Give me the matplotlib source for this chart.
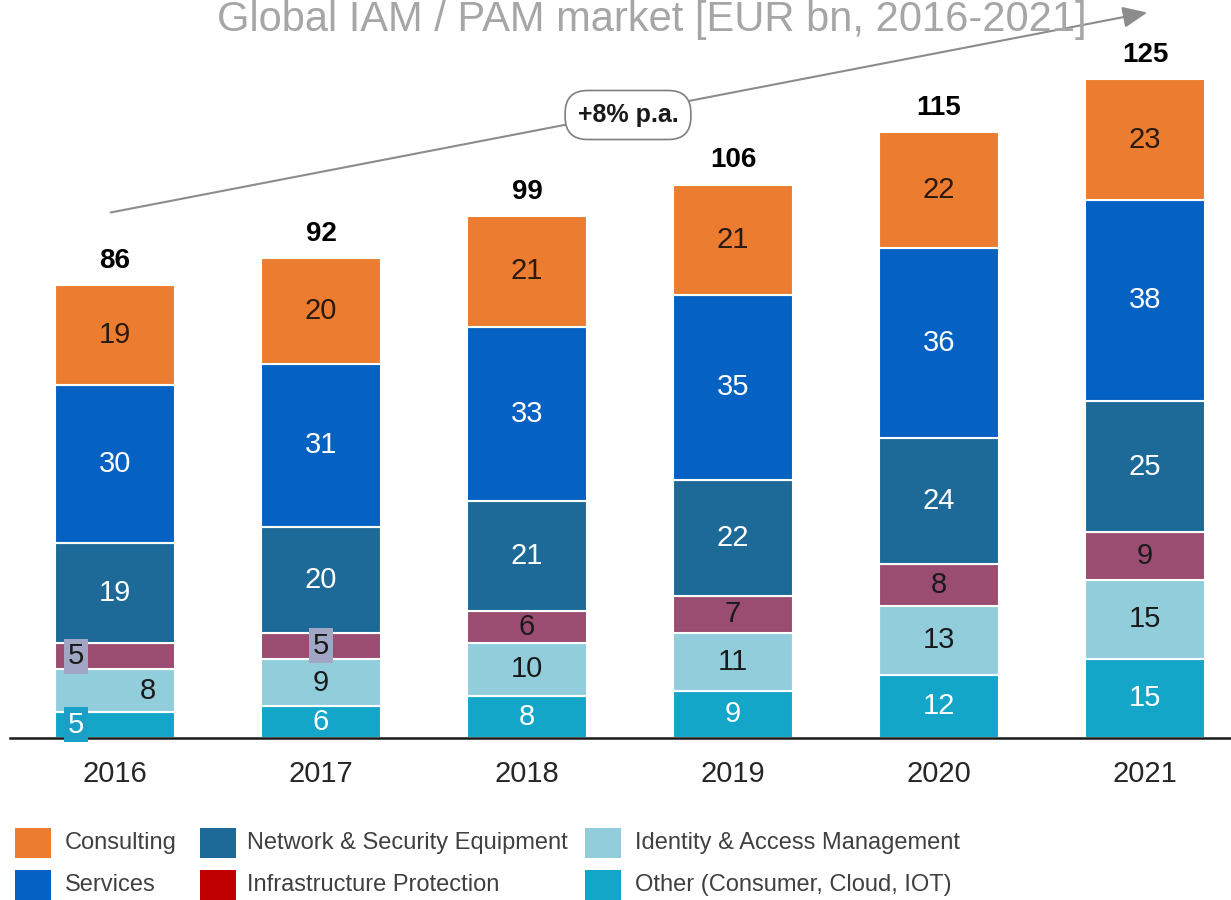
import matplotlib.pyplot as plt
from matplotlib.patches import Rectangle
import numpy as np

plt.rcParams['font.family'] = ['Liberation Sans Narrow', 'Liberation Sans', 'DejaVu Sans']

years = ['2016', '2017', '2018', '2019', '2020', '2021']
totals = [86, 92, 99, 106, 115, 125]
# segments bottom to top
other = [5, 6, 8, 9, 12, 15]
iam = [8, 9, 10, 11, 13, 15]
infra = [5, 5, 6, 7, 8, 9]
network = [19, 20, 21, 22, 24, 25]
services = [30, 31, 33, 35, 36, 38]
consulting = [19, 20, 21, 21, 22, 23]

segments = [other, iam, infra, network, services, consulting]
seg_colors = ['#13a6c8', '#92cddc', '#9a4d70', '#1d6a99', '#0662c2', '#ec7c30']
label_colors = ['white', '#1a1a1a', '#1a1a1a', 'white', 'white', '#2a1a10']

legend_names = ['Consulting', 'Services', 'Network & Security Equipment',
                'Infrastructure Protection', 'Identity & Access Management',
                'Other (Consumer, Cloud, IOT)']
legend_colors = ['#ec7c30', '#0662c2', '#1d6a99', '#c00000', '#92cddc', '#13a6c8']

fig = plt.figure(figsize=(12.31, 9), dpi=100)
ax = fig.add_axes([10 / 1231, 0.18, 1 - 10 / 1231, 0.82])

x = np.arange(len(years))
w = 0.583
bottom = np.zeros(len(years))
for k, (vals, col) in enumerate(zip(segments, seg_colors)):
    vals = np.array(vals, dtype=float)
    ax.bar(x, vals, w, bottom=bottom, color=col, edgecolor='white', linewidth=1.5)
    for i in range(len(years)):
        xo = x[i]
        box = None
        # a few labels sit off-centre with a small box, as in the source slide
        if i == 0 and k == 0:
            xo = x[i] - 0.19
            box = '#1aa0c6'
        elif i == 0 and k == 1:
            xo = x[i] + 0.16
        elif i == 0 and k == 2:
            xo = x[i] - 0.19
            box = '#a0a6c4'
        elif i == 1 and k == 2:
            box = '#a0a6c4'
        t = ax.text(xo, bottom[i] + vals[i] / 2, str(int(vals[i])), ha='center', va='center',
                    fontsize=21, color=label_colors[k])
        if box:
            t.set_bbox(dict(facecolor=box, edgecolor='none', pad=2.5))
    bottom += vals

for i in range(len(years)):
    ax.annotate(str(totals[i]), (x[i], bottom[i]), xytext=(0, 8), textcoords='offset points',
                ha='center', va='bottom', fontsize=20, fontweight='bold', color='black')

ax.set_xlim(-0.51, 5.417)
ax.set_ylim(0, 140)
ax.set_xticks(x)
ax.set_xticklabels(years, fontsize=21, color='#262626')
ax.tick_params(axis='x', length=0, pad=16)
ax.set_yticks([])
for s in ['top', 'left', 'right']:
    ax.spines[s].set_visible(False)
ax.spines['bottom'].set_linewidth(1.8)
ax.spines['bottom'].set_color('#1a1a1a')

# title (cut at top edge as in source)
fig.text(652 / 1231, 1 - 31 / 900, 'Global IAM / PAM market [EUR bn, 2016-2021]',
         ha='center', va='baseline', fontsize=30, color='#a6a6a6')

# growth arrow
fig.add_artist(plt.Annotation('', xy=(1150 / 1231, 1 - 12 / 900), xytext=(108 / 1231, 1 - 213 / 900),
                              xycoords='figure fraction', textcoords='figure fraction',
                              arrowprops=dict(arrowstyle='-|>,head_length=1.5,head_width=0.65',
                                              color='#8c8c8c', lw=1.5)))
fig.text(628 / 1231, 1 - 115 / 900, '+8% p.a.', ha='center', va='center', fontsize=18,
         fontweight='bold', color='#1a1a1a',
         bbox=dict(boxstyle='round,pad=0.5,rounding_size=0.9', facecolor='white',
                   edgecolor='#7f7f7f', lw=1.2))

# legend
col_sq = [15, 200, 585]
col_tx = [65, 247, 635]
row_y = [843, 885]
for j, (name, col) in enumerate(zip(legend_names, legend_colors)):
    c, r = j // 2, j % 2
    fig.add_artist(Rectangle((col_sq[c] / 1231, 1 - (row_y[r] + 15) / 900), 36 / 1231, 30 / 900,
                             transform=fig.transFigure, facecolor=col, edgecolor='none'))
    fig.text(col_tx[c] / 1231, 1 - row_y[r] / 900, name, ha='left', va='center',
             fontsize=17, color='#404040')

fig.savefig('out.png', dpi=100)
